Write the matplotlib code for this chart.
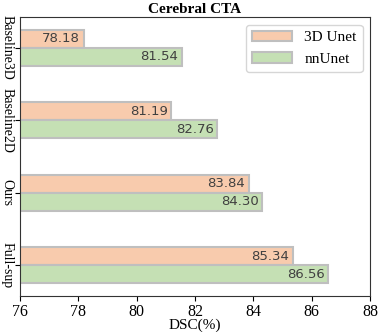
import numpy as np
import matplotlib.pyplot as plt

methods = ['Baseline3D', 'Baseline2D', 'Ours', 'Full-sup']
unet3d = [78.18, 81.19, 83.84, 85.34]
nnunet = [81.54, 82.76, 84.30, 86.56]

serif = 'Liberation Serif'
fig = plt.figure(figsize=(3.82, 3.32), dpi=100)
ax = fig.add_axes([0.052, 0.108, 0.917, 0.841])

y = np.arange(len(methods))
h = 0.25
b1 = ax.barh(y - h / 2, unet3d, height=h, left=0, color='#f8cbad', edgecolor='#bfbfbf',
             linewidth=1.5, label='3D Unet')
b2 = ax.barh(y + h / 2, nnunet, height=h, left=0, color='#c5e0b4', edgecolor='#bfbfbf',
             linewidth=1.5, label='nnUnet')

for bars, vals in [(b1, unet3d), (b2, nnunet)]:
    for bar, v in zip(bars, vals):
        ax.text(v - 0.12, bar.get_y() + bar.get_height() / 2, f'{v:.2f}',
                ha='right', va='center', fontsize=9.5, color='#404040', family='DejaVu Sans')

ax.set_xlim(76, 88)
ax.set_xticks(range(76, 89, 2))
ax.set_yticks(y)
ax.set_yticklabels(methods, rotation=-90, va='center', family=serif, fontsize=10)
ax.invert_yaxis()
for lab in ax.get_xticklabels():
    lab.set_family(serif)
    lab.set_fontsize(11.5)
ax.tick_params(axis='y', pad=1)
ax.tick_params(axis='x', pad=2)
ax.set_xlabel('DSC(%)', family=serif, fontsize=11, labelpad=-1)
ax.set_title('Cerebral CTA', family=serif, fontweight='bold', fontsize=11, pad=3)
for s in ax.spines.values():
    s.set_color('#333333')

ax.legend(loc='upper right', prop={'family': serif, 'size': 11}, handlelength=2.6,
          borderaxespad=0.5)

plt.savefig('out.png')
